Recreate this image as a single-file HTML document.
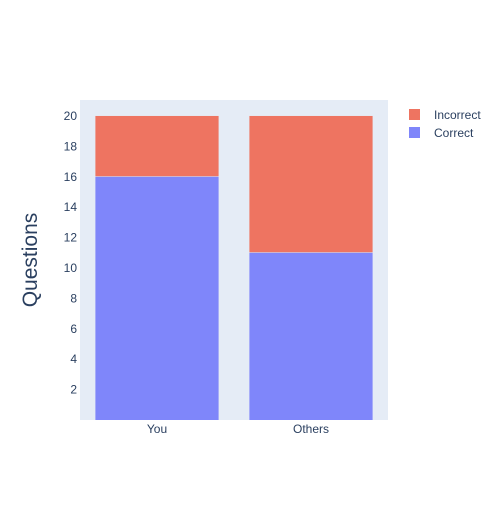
<!DOCTYPE html>
<html><head><meta charset="utf-8"><style>
body{margin:0;background:#fff;}
svg text{font-family:"Liberation Sans",sans-serif;fill:#2a3f5f;}
</style></head><body>
<svg width="500" height="500">
<rect x="80" y="100" width="308" height="320" fill="#e5ecf6"/>
<g id="bars"></g><g id="yticks"></g><g id="xticks"></g>
<text transform="translate(37,260) rotate(-90)" text-anchor="middle" font-size="21">Questions</text>
<g>
<rect x="409" y="109" width="11" height="11" fill="#ee7461"/>
<text x="434" y="119" font-size="12">Incorrect</text>
<rect x="409" y="127" width="11" height="11" fill="#7f86fa"/>
<text x="434" y="137" font-size="12">Correct</text>
</g>
</svg>
<script>
const categories=["You","Others"];
const correct=[16,11];
const incorrect=[4,9];
const yTicks=[2,4,6,8,10,12,14,16,18,20];
const ns="http://www.w3.org/2000/svg";
const x0=80,w=308,y0=420,h=320,yMax=21.05;
const y=v=>y0-v/yMax*h;
const band=w/categories.length;
const bx=i=>x0+band*i+band*0.1;
const bw=band*0.8;
function mk(t,a,p){const e=document.createElementNS(ns,t);for(const k in a)e.setAttribute(k,a[k]);p.appendChild(e);return e;}
const gb=document.getElementById('bars');
categories.forEach((c,i)=>{
 let r=mk('rect',{x:bx(i),y:y(correct[i]),width:bw,height:y0-y(correct[i]),fill:'#7f86fa'},gb);
 
 
 let r2=mk('rect',{x:bx(i),y:y(correct[i]+incorrect[i]),width:bw,height:y(correct[i])-y(correct[i]+incorrect[i])-0.5,fill:'#ee7461'},gb);
 
 
 let t=mk('text',{x:x0+band*i+band/2,y:433,'text-anchor':'middle','font-size':12},document.getElementById('xticks'));
 t.textContent=c;
 
 
});
yTicks.forEach(v=>{
 let t=mk('text',{x:79-0,y:y(v)+4,'text-anchor':'end','font-size':12,dx:-2},document.getElementById('yticks'));
 t.textContent=v;
 
 
});
</script>
</body></html>
